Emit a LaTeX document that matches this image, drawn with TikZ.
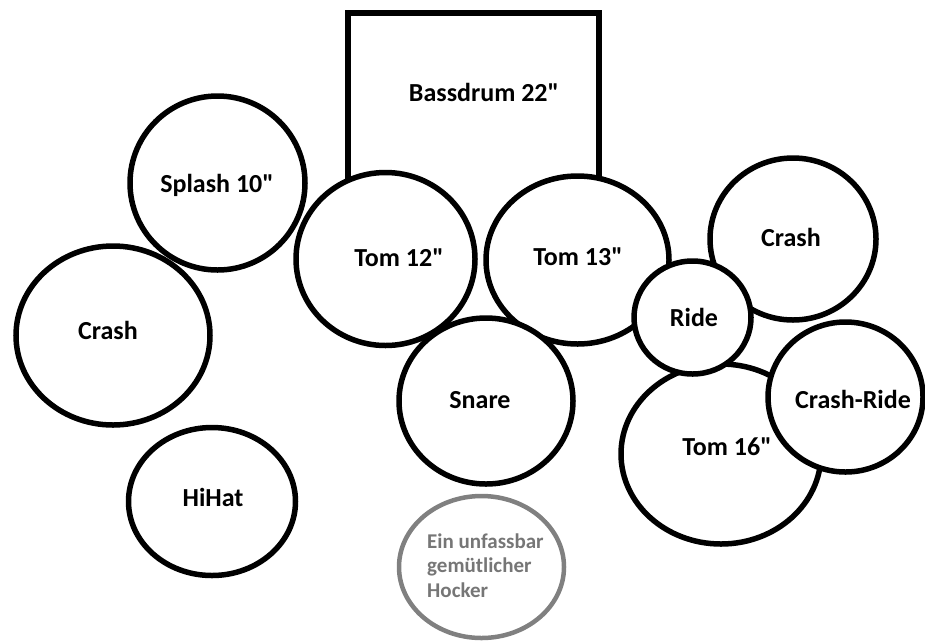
\documentclass[tikz,border=0pt]{standalone}
\usepackage{fontspec}
\setmainfont{Carlito}
\usetikzlibrary{shapes.geometric}
\definecolor{hockerline}{RGB}{128,128,128}
\definecolor{hockertext}{RGB}{118,118,118}

\begin{document}
\begin{tikzpicture}[x=1pt,y=-1pt,
    drum/.style={draw,ellipse,line width=5.5pt,fill=white,inner sep=0pt,outer sep=0pt},
    lbl/.style={font=\fontsize{26}{30}\selectfont\bfseries,inner sep=0pt,text height=17pt,text depth=0pt},
    stool/.style={draw=hockerline,ellipse,line width=4.5pt,fill=white,inner sep=0pt,outer sep=0pt}]
		\useasboundingbox (0,0) rectangle (925,641);
		% bassdrum, open at the bottom
		\draw[line width=6pt] (348,240) -- (348,13) -- (599,13) -- (599,240);
		\node[lbl] (bass) at (484,93) {Bassdrum 22\textquotedbl};
		% drums and cymbals
		\node[drum,minimum width=175,minimum height=174] (splash) at (217.5,183) {};
		\node[drum,minimum width=194,minimum height=179] (crashL) at (113,335.5) {};
		\node[drum,minimum width=167,minimum height=148] (hihat) at (212,501.5) {};
		\node[drum,minimum width=179,minimum height=173] (tom12) at (385.5,259) {};
		\node[drum,minimum width=183,minimum height=168] (tom13) at (577.5,260) {};
		\node[drum,minimum width=166,minimum height=162] (crashR) at (793,239) {};
		\node[drum,minimum width=200,minimum height=180] (tom16) at (721,454) {};
		\node[drum,minimum width=117,minimum height=113] (ride) at (692.5,317.5) {};
		\node[drum,minimum width=174,minimum height=166] (snare) at (486,401) {};
		\node[drum,minimum width=155,minimum height=150] (crashride) at (845.5,397) {};
		\node[stool,minimum width=165,minimum height=142] (hocker) at (481.5,567) {};
		% labels
		\node[lbl] (splash-l) at (217,184) {Splash 10\textquotedbl};
		\node[lbl] (crashL-l) at (108,331) {Crash};
		\node[lbl] (hihat-l) at (213,498) {HiHat};
		\node[lbl] (tom12-l) at (399,258) {Tom 12\textquotedbl};
		\node[lbl] (tom13-l) at (578,257) {Tom 13\textquotedbl};
		\node[lbl] (crashR-l) at (791,238) {Crash};
		\node[lbl] (tom16-l) at (727,447) {Tom 16\textquotedbl};
		\node[lbl] (ride-l) at (694,318) {Ride};
		\node[lbl] (snare-l) at (480,400) {Snare};
		\node[lbl] (crashride-l) at (853,400) {Crash-Ride};
		\node[anchor=base west,inner sep=0pt,align=left,text=hockertext,
		      font=\fontsize{21}{24.5}\selectfont\bfseries] (hocker-l) at (427,597)
		      {Ein unfassbar\\gemütlicher\\Hocker};
	\end{tikzpicture}
\end{document}
